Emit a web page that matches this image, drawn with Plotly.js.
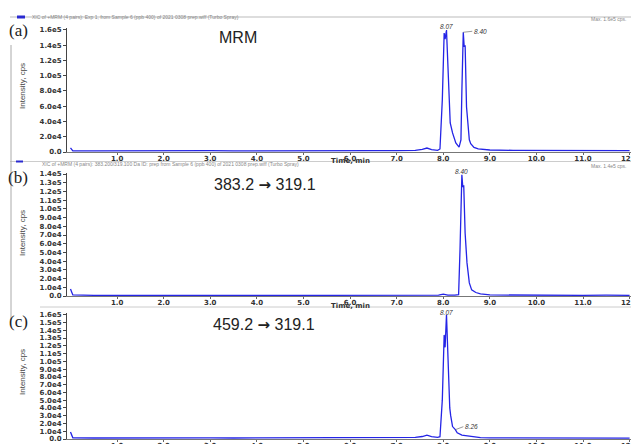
<!DOCTYPE html>
<html>
<head>
<meta charset="utf-8">
<script src="https://cdn.plot.ly/plotly-3.0.1.min.js"></script>
<style>html,body{margin:0;padding:0;background:#fff;}#chart{width:631px;height:444px;}</style>
</head>
<body>
<div id="chart"></div>
<script>
// ---- data ----
const timeA = [0, 0.05, 0.5, 1.0, 1.5, 2.0, 2.5, 3.0, 3.5, 4.0, 4.5, 5.0, 5.5, 6.0, 6.5, 7.0, 7.4, 7.55, 7.65, 7.75, 7.88, 7.93, 7.98, 8.02, 8.04, 8.07, 8.09, 8.11, 8.13, 8.15, 8.2, 8.27, 8.34, 8.38, 8.40, 8.43, 8.45, 8.47, 8.50, 8.53, 8.56, 8.59, 8.66, 8.75, 8.85, 9.0, 9.5, 10.0, 10.5, 11.0, 11.5, 12.0];
const intensityA = [5500, 1600, 1500, 1700, 1400, 1600, 1500, 1800, 1500, 1700, 1600, 1500, 1700, 1600, 1800, 1900, 2200, 3500, 5200, 3200, 2200, 4000, 68000, 156000, 148000, 160000, 130000, 111000, 85000, 38000, 25000, 12000, 6500, 16000, 80000, 157000, 138000, 140000, 59000, 33000, 16000, 11000, 6000, 4000, 3200, 2600, 2200, 2000, 2400, 2500, 2100, 1800];

const timeB = [0, 0.05, 0.5, 1.0, 1.5, 2.0, 2.5, 3.0, 3.5, 4.0, 4.5, 5.0, 5.5, 6.0, 6.5, 7.0, 7.5, 7.9, 8.0, 8.1, 8.25, 8.33, 8.36, 8.40, 8.42, 8.44, 8.47, 8.51, 8.56, 8.61, 8.7, 8.8, 9.0, 9.5, 10.0, 10.5, 11.0, 11.5, 12.0];
const intensityB = [8000, 1200, 800, 900, 700, 800, 900, 700, 800, 900, 800, 700, 900, 800, 900, 800, 900, 1000, 2200, 1000, 900, 1500, 53000, 139000, 125000, 127000, 72000, 38000, 15000, 7000, 4000, 2500, 1200, 900, 800, 900, 800, 900, 800];

const timeC = [0, 0.05, 0.5, 1.0, 1.5, 2.0, 2.5, 3.0, 3.5, 4.0, 4.5, 5.0, 5.5, 6.0, 6.5, 7.0, 7.4, 7.55, 7.65, 7.75, 7.88, 7.93, 7.98, 8.02, 8.04, 8.07, 8.09, 8.11, 8.14, 8.16, 8.2, 8.26, 8.3, 8.4, 8.5, 8.6, 8.8, 9.0, 9.5, 10.0, 10.5, 11.0, 11.5, 12.0];
const intensityC = [9000, 1500, 1300, 1500, 1200, 1400, 1300, 1500, 1300, 1400, 1300, 1500, 1400, 1300, 1500, 1600, 2000, 3200, 5000, 3000, 2200, 3000, 50000, 134000, 118000, 160000, 117000, 71000, 40000, 30000, 16000, 12000, 8000, 5000, 4000, 3000, 1800, 1500, 1400, 1300, 1500, 1400, 1300, 1200];

const xTickVals = [1, 2, 3, 4, 5, 6, 7, 8, 9, 10, 11, 12];
const xTickText = ["1.0", "2.0", "3.0", "4.0", "5.0", "6.0", "7.0", "8.0", "9.0", "10.0", "11.0", "12.0"];

const yTickValsA = [0, 20000, 40000, 60000, 80000, 100000, 120000, 140000, 160000];
const yTickTextA = ["0.0", "2.0e4", "4.0e4", "6.0e4", "8.0e4", "1.0e5", "1.2e5", "1.4e5", "1.6e5"];
const yTickValsB = [0, 10000, 20000, 30000, 40000, 50000, 60000, 70000, 80000, 90000, 100000, 110000, 120000, 130000, 140000];
const yTickTextB = ["0.0", "1.0e4", "2.0e4", "3.0e4", "4.0e4", "5.0e4", "6.0e4", "7.0e4", "8.0e4", "9.0e4", "1.0e5", "1.1e5", "1.2e5", "1.3e5", "1.4e5"];
const yTickValsC = [0, 10000, 20000, 30000, 40000, 50000, 60000, 70000, 80000, 90000, 100000, 110000, 120000, 130000, 140000, 150000, 160000];
const yTickTextC = ["0.0", "1.0e4", "2.0e4", "3.0e4", "4.0e4", "5.0e4", "6.0e4", "7.0e4", "8.0e4", "9.0e4", "1.0e5", "1.1e5", "1.2e5", "1.3e5", "1.4e5", "1.5e5", "1.6e5"];

const panelLetters = ["(a)", "(b)", "(c)"];
const arrowSpan = "<span style='font-family:DejaVu Sans;font-weight:bold;font-size:15px'>\u2192</span>";
const panelTitles = ["MRM", "383.2 " + arrowSpan + " 319.1", "459.2 " + arrowSpan + " 319.1"];
const peakLabelsA = [{t: 8.07, v: 160000, text: "8.07"}, {t: 8.43, v: 157000, text: "8.40"}];
const peakLabelsB = [{t: 8.40, v: 139000, text: "8.40"}];
const peakLabelsC = [{t: 8.07, v: 160000, text: "8.07"}, {t: 8.26, v: 12000, text: "8.26"}];
const headerTexts = [
  "XIC of +MRM (4 pairs): Exp 1, from Sample 6 (ppb 400) of 2021 0308 prep.wiff (Turbo Spray)",
  "XIC of +MRM (4 pairs): 383.200/319.100 Da ID: prep from Sample 6 (ppb 400) of 2021 0308 prep.wiff (Turbo Spray)"
];
const maxTexts = ["Max. 1.6e5 cps.", "Max. 1.4e5 cps."];
const xAxisTitle = "Time, min";
const yAxisTitle = "Intensity, cps";

// ---- layout helpers (pixel -> paper) ----
const W = 631, H = 444;
const px = v => v / W;
const py = v => 1 - v / H;

const lineColor = "#2424e6";
const tickFont = {family: "DejaVu Sans", size: 7, color: "#333", weight: "bold"};

function xAxis(anchor) {
  return {
    anchor: anchor, domain: [px(67), 1], range: [-0.075, 12.03],
    tickmode: "array", tickvals: xTickVals, ticktext: xTickText,
    ticks: "outside", ticklen: 2, tickcolor: "#666", tickfont: tickFont,
    ticklabelstandoff: -2, ticklabeloverflow: "allow",
    showline: true, linecolor: "#777", linewidth: 1,
    showgrid: false, zeroline: false, fixedrange: true
  };
}
function yAxis(anchor, dom, top, vals, text) {
  return {
    anchor: anchor, domain: dom, range: [0, top],
    tickmode: "array", tickvals: vals, ticktext: text,
    ticks: "outside", ticklen: 3, tickcolor: "#444", tickfont: tickFont,
    ticklabeloverflow: "allow",
    showline: true, linecolor: "#444", linewidth: 1,
    showgrid: false, zeroline: false, fixedrange: true
  };
}

const traces = [
  {x: timeA, y: intensityA, xaxis: "x", yaxis: "y", type: "scatter", mode: "lines", line: {color: lineColor, width: 1.3}},
  {x: timeB, y: intensityB, xaxis: "x2", yaxis: "y2", type: "scatter", mode: "lines", line: {color: lineColor, width: 1.3}},
  {x: timeC, y: intensityC, xaxis: "x3", yaxis: "y3", type: "scatter", mode: "lines", line: {color: lineColor, width: 1.3}}
];

const annotations = [];
function paperText(text, x, y, font, extra) {
  annotations.push(Object.assign({xref: "paper", yref: "paper", x: px(x), y: py(y), text: text, showarrow: false, font: font, xanchor: "center", yanchor: "middle"}, extra || {}));
}
// panel letters
[31, 177, 321].forEach((yy, i) => paperText(panelLetters[i], 18, yy, {family: "Liberation Serif", size: 17, color: "#222"}));
// panel titles
paperText(panelTitles[0], 238, 37, {family: "Liberation Sans", size: 16, color: "#222"});
paperText(panelTitles[1], 265, 185, {family: "Liberation Sans", size: 16, color: "#222"});
paperText(panelTitles[2], 264, 325, {family: "Liberation Sans", size: 16, color: "#222"});
// y axis titles
[86, 233, 372].forEach(yy => paperText(yAxisTitle, 22, yy, {family: "Liberation Sans Narrow, Liberation Sans", size: 8, color: "#444"}, {textangle: -90}));
// x axis titles
paperText(xAxisTitle, 350, 161, {family: "DejaVu Sans", size: 7, color: "#333", weight: "bold"});
paperText(xAxisTitle, 350, 306, {family: "DejaVu Sans", size: 7, color: "#333", weight: "bold"});
// header texts
paperText(headerTexts[0], 30, 17.5, {family: "Liberation Sans", size: 5, color: "#888"}, {xanchor: "left"});
paperText(headerTexts[1], 40, 164, {family: "Liberation Sans", size: 5, color: "#888"}, {xanchor: "left"});
paperText(maxTexts[0], 628, 19, {family: "Liberation Sans", size: 5, color: "#888"}, {xanchor: "right"});
paperText(maxTexts[1], 628, 166, {family: "Liberation Sans", size: 5, color: "#888"}, {xanchor: "right"});

// peak labels on data coordinates
const peakFont = {family: "Liberation Sans", size: 6.5, color: "#333", style: "italic"};
annotations.push({xref: "x", yref: "y", x: peakLabelsA[0].t, y: peakLabelsA[0].v, text: peakLabelsA[0].text, showarrow: false, yanchor: "bottom", yshift: -2, font: peakFont});
annotations.push({xref: "x", yref: "y", x: peakLabelsA[1].t, y: peakLabelsA[1].v, text: peakLabelsA[1].text, showarrow: true, arrowhead: 0, arrowwidth: 0.6, arrowcolor: "#555", ax: 9, ay: -1, xanchor: "left", font: peakFont});
annotations.push({xref: "x2", yref: "y2", x: peakLabelsB[0].t, y: peakLabelsB[0].v, text: peakLabelsB[0].text, showarrow: false, yanchor: "bottom", yshift: -2, font: peakFont});
annotations.push({xref: "x3", yref: "y3", x: peakLabelsC[0].t, y: peakLabelsC[0].v, text: peakLabelsC[0].text, showarrow: false, yanchor: "bottom", yshift: -3, font: peakFont});
annotations.push({xref: "x3", yref: "y3", x: peakLabelsC[1].t, y: peakLabelsC[1].v, text: peakLabelsC[1].text, showarrow: true, arrowhead: 0, arrowwidth: 0.6, arrowcolor: "#555", ax: 8, ay: -3, xanchor: "left", font: peakFont});

const shapes = [
  {type: "line", xref: "paper", yref: "paper", x0: px(10), x1: 1, y0: py(17), y1: py(17), line: {color: "#bbb", width: 1}},
  {type: "rect", xref: "paper", yref: "paper", x0: px(17), x1: px(25), y0: py(18.5), y1: py(15.5), line: {width: 0}, fillcolor: "#2a2ad0"},
  {type: "line", xref: "paper", yref: "paper", x0: px(10), x1: 1, y0: py(161.5), y1: py(161.5), line: {color: "#ccc", width: 1}},
  {type: "rect", xref: "paper", yref: "paper", x0: px(16), x1: px(23), y0: py(162.5), y1: py(160.5), line: {width: 0}, fillcolor: "#2a2ad0"},
  {type: "line", xref: "paper", yref: "paper", x0: px(40), x1: 1, y0: py(307), y1: py(307), line: {color: "#ccc", width: 1}},
  {type: "line", xref: "paper", yref: "paper", x0: px(11), x1: px(11), y0: py(45), y1: py(320), line: {color: "#aaa", width: 1}}
];

const layout = {
  width: W, height: H, margin: {l: 0, r: 0, t: 0, b: 0},
  paper_bgcolor: "#fff", plot_bgcolor: "#fff", showlegend: false,
  xaxis: xAxis("y"), xaxis2: xAxis("y2"), xaxis3: xAxis("y3"),
  yaxis: yAxis("x", [py(152), py(28)], 162600, yTickValsA, yTickTextA),
  yaxis2: yAxis("x2", [py(296), py(173)], 141150, yTickValsB, yTickTextB),
  yaxis3: yAxis("x3", [py(439), py(313)], 162200, yTickValsC, yTickTextC),
  annotations: annotations, shapes: shapes
};

Plotly.newPlot("chart", traces, layout, {staticPlot: true, displayModeBar: false});
</script>
</body>
</html>
